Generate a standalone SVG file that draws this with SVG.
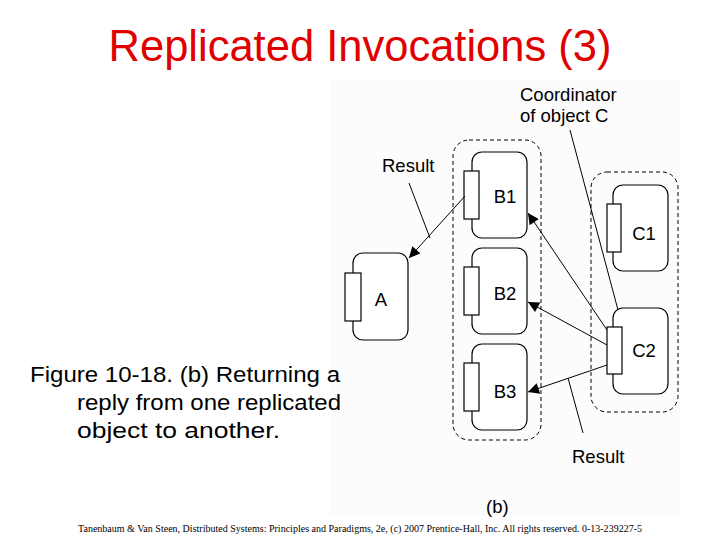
<svg xmlns="http://www.w3.org/2000/svg" width="720" height="540" viewBox="0 0 720 540">
<defs>
<style>
.box{fill:#fff;stroke:#000;stroke-width:1.2}
.grp{fill:none;stroke:#000;stroke-width:1;stroke-dasharray:4 3}
.ln{fill:none;stroke:#000;stroke-width:1}
.lbl{font-family:"Liberation Sans",Arial,sans-serif;font-size:18.5px;fill:#000}
</style>
<marker id="ah" viewBox="0 0 10 10" refX="10" refY="5" markerWidth="15" markerHeight="11" orient="auto" markerUnits="userSpaceOnUse"><path d="M0,0L10,5L0,10z" fill="#000"/></marker>
</defs>
<rect width="720" height="540" fill="#fff"/>
<rect x="330" y="80" width="350" height="436" fill="#fcfcfc"/>
<text x="360" y="61" text-anchor="middle" font-family="Liberation Sans,Arial,sans-serif" font-size="43.5" fill="#e00000">Replicated Invocations (3)</text>
<g font-family="Liberation Sans,Arial,sans-serif" font-size="22" fill="#000" lengthAdjust="spacingAndGlyphs">
<text x="30" y="382" textLength="310" lengthAdjust="spacingAndGlyphs">Figure 10-18. (b) Returning a</text>
<text x="77" y="410" textLength="264" lengthAdjust="spacingAndGlyphs">reply from one replicated</text>
<text x="77" y="438" textLength="203" lengthAdjust="spacingAndGlyphs">object to another.</text>
</g>
<text x="78" y="532" font-family="Liberation Serif,serif" font-size="10" textLength="564" fill="#000">Tanenbaum &amp; Van Steen, Distributed Systems: Principles and Paradigms, 2e, (c) 2007 Prentice-Hall, Inc. All rights reserved. 0-13-239227-5</text>
<rect id="groupB" class="grp" x="453" y="140" width="88" height="300" rx="16"/>
<rect id="groupC" class="grp" x="591" y="172" width="87" height="240" rx="16"/>
<g id="A"><rect class="box" x="353" y="253" width="55" height="87" rx="10"/><rect class="box" x="345" y="273" width="16" height="48"/><text class="lbl" x="381" y="306" text-anchor="middle">A</text></g>
<g id="B1"><rect class="box" x="472" y="152" width="55" height="86" rx="10"/><rect class="box" x="464" y="171" width="15" height="48"/><text class="lbl" x="505" y="203" text-anchor="middle">B1</text></g>
<g id="B2"><rect class="box" x="472" y="248" width="55" height="86" rx="10"/><rect class="box" x="464" y="267" width="15" height="48"/><text class="lbl" x="505" y="300" text-anchor="middle">B2</text></g>
<g id="B3"><rect class="box" x="472" y="344" width="55" height="86" rx="10"/><rect class="box" x="464" y="363" width="15" height="48"/><text class="lbl" x="505" y="398" text-anchor="middle">B3</text></g>
<g id="C1"><rect class="box" x="613" y="185" width="55" height="86" rx="10"/><rect class="box" x="607" y="204" width="14" height="48"/><text class="lbl" x="644" y="240" text-anchor="middle">C1</text></g>
<g id="C2"><rect class="box" x="613" y="308" width="55" height="86" rx="10"/><rect class="box" x="607" y="327" width="15" height="47"/><text class="lbl" x="644" y="357" text-anchor="middle">C2</text></g>
<g id="connectors">
<line class="ln" x1="465" y1="196" x2="409" y2="258" marker-end="url(#ah)"/>
<line class="ln" x1="607" y1="330" x2="528" y2="213" marker-end="url(#ah)"/>
<line class="ln" x1="607" y1="345" x2="528" y2="302" marker-end="url(#ah)"/>
<line class="ln" x1="607" y1="365" x2="528" y2="392" marker-end="url(#ah)"/>
<line class="ln" x1="409" y1="183" x2="430" y2="238"/>
<line class="ln" x1="570" y1="130" x2="618" y2="310"/>
<line class="ln" x1="568" y1="378" x2="583" y2="433"/>
</g>
<g class="lbl">
<text x="382" y="172">Result</text>
<text x="520" y="101">Coordinator</text>
<text x="520" y="122">of object C</text>
<text x="572" y="463">Result</text>
<text x="486" y="513">(b)</text>
</g>
</svg>
